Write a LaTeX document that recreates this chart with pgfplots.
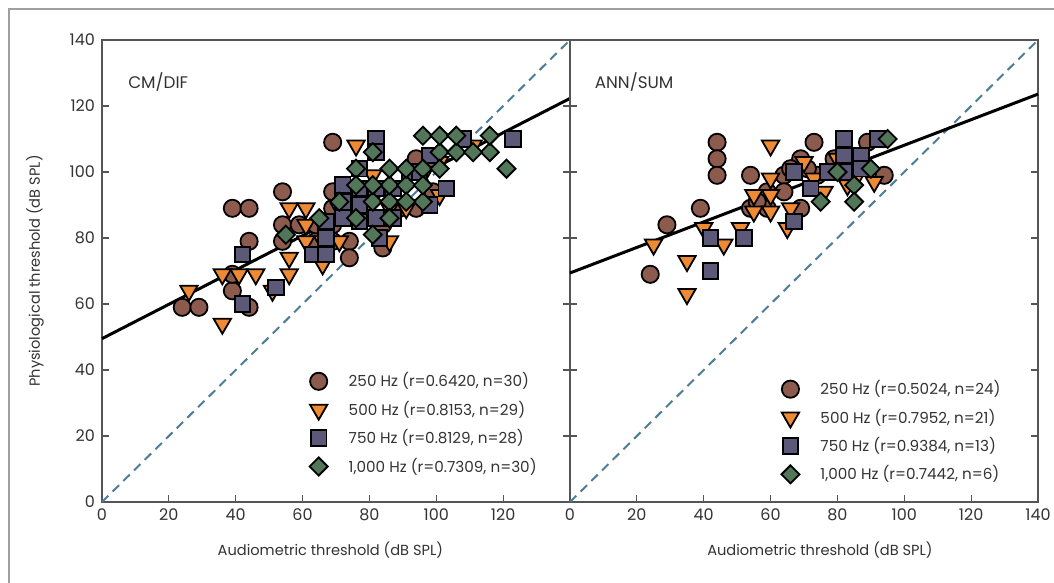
\documentclass[border=0pt]{standalone}
\usepackage{pgfplots}
\pgfplotsset{compat=1.18}
\usepackage{fontspec}
\setmainfont{Poppins}
\definecolor{cbrown}{HTML}{8C5B4E}
\definecolor{corange}{HTML}{EE8A34}
\definecolor{cpurple}{HTML}{5C5878}
\definecolor{cgreen}{HTML}{517658}
\definecolor{cdash}{HTML}{4D7D98}
\definecolor{caxis}{HTML}{555555}
\definecolor{ctext}{HTML}{333333}
\pgfplotsset{
  panel/.style={
    width=234pt, height=231pt, scale only axis,
    xmin=0, xmax=140, ymin=0, ymax=140,
    xtick={0,20,...,140}, ytick={0,20,...,140},
    tick align=inside, xtick pos=lower,
    yticklabel pos=left,
    major tick length=3.5pt,
    axis line style={caxis, line width=0.8pt},
    tick style={caxis, line width=0.6pt},
    tick label style={font=\fontsize{8}{9}\selectfont, text=ctext},
    /pgf/number format/assume math mode=true,
    every axis y label/.style={at={(axis description cs:-0.143,0.5)}, rotate=90, anchor=center, font=\fontsize{7.3}{9}\selectfont, text=ctext},
    legend cell align=left,
    legend style={draw=none, fill=none, font=\fontsize{7.6}{9}\selectfont, text=ctext, row sep=1.6pt, column sep=8.5pt, anchor=north west},
    clip=false,
  },
  s250/.style={only marks, mark=*, mark size=4.3pt, mark options={fill=cbrown, draw=black, line width=0.9pt}},
  s500/.style={only marks, mark=triangle*, mark size=5pt, mark options={rotate=180, fill=corange, draw=black, line width=0.9pt}},
  s750/.style={only marks, mark=square*, mark size=3.9pt, mark options={fill=cpurple, draw=black, line width=0.9pt}},
  s1000/.style={only marks, mark=square*, mark size=3.2pt, mark options={rotate=45, fill=cgreen, draw=black, line width=0.9pt}},
  idline/.style={cdash, line width=1pt, dash pattern=on 4.5pt off 3pt, forget plot},
  regline/.style={black, line width=1.5pt, forget plot},
}
\begin{document}
\begin{tikzpicture}
\useasboundingbox (-51pt,-40.5pt) rectangle (476pt,251pt);
\draw[gray!75, line width=1pt] (-46.5pt,-45pt) -- (-46.5pt,246.5pt) -- (480pt,246.5pt);
\begin{axis}[panel, at={(0pt,0pt)}, anchor=south west,
  xticklabels={0,20,40,60,80,100,120,{}},
  xlabel={Audiometric threshold (dB SPL)},
  every axis x label/.style={at={(axis description cs:0.488,-0.104)}, anchor=center, font=\fontsize{7.3}{9}\selectfont, text=ctext},
  ylabel={Physiological threshold (dB SPL)},
  legend style={at={(0.430,0.298)}}]
\addplot[idline] coordinates {(0,0) (140,140)};
\addplot[regline] coordinates {(0,49.5) (140,122.3)};
\addplot[s250] coordinates {
(24,59) (29,59) (39,89) (44,89) (44,79) (39,64) (39,69) (44,59) (54,94) (54,84)
(54,79) (69,109) (69,94) (69,89) (69,84) (69,79) (74,79) (74,74) (64,79) (59,84)
(79,89) (79,94) (84,84) (84,77) (89,89) (94,104) (94,89) (99,94) (99,104) (64,84)};
\addlegendentry{250 Hz (r=0.6420, n=30)}
\addplot[s500] coordinates {
(26,64) (36,69) (41,69) (46,69) (36,54) (51,64) (56,89) (61,89) (61,84) (61,79)
(56,74) (56,69) (66,72) (76,108) (91,89) (86,79) (111,108) (101,103) (101,93) (66,84)
(71,89) (76,94) (81,99) (86,94) (71,79) (96,99) (81,86) (66,79) (86,89)};
\addlegendentry{500 Hz (r=0.8153, n=29)}
\addplot[s750] coordinates {
(42,75) (42,60) (52,65) (63,75) (67,75) (67,80) (72,96) (72,91) (72,86) (77,95)
(77,101) (82,110) (82,106) (82,95) (82,86) (87,86) (83,80) (108,110) (123,110) (103,95)
(98,90) (98,105) (77,90) (87,95) (92,100) (67,85) (77,85) (95,100)};
\addlegendentry{750 Hz (r=0.8129, n=28)}
\addplot[s1000] coordinates {
(55,81) (65,86) (76,86) (81,81) (81,91) (86,91) (96,91) (86,96) (91,96) (76,101)
(86,101) (91,101) (96,101) (81,106) (101,106) (106,106) (116,106) (96,111) (101,111) (116,111)
(121,101) (81,96) (71,91) (76,96) (91,91) (101,101) (111,106) (86,86) (96,96) (106,111)};
\addlegendentry{1,000 Hz (r=0.7309, n=30)}
\node[anchor=west, font=\fontsize{8.4}{9}\selectfont, text=ctext] at (axis description cs:0.041,0.909) {CM/DIF};
\end{axis}
\begin{axis}[panel, at={(234pt,0pt)}, anchor=south west,
  yticklabels={},
  xlabel={Audiometric threshold (dB SPL)},
  every axis x label/.style={at={(axis description cs:0.534,-0.104)}, anchor=center, font=\fontsize{7.3}{9}\selectfont, text=ctext},
  legend style={at={(0.438,0.281)}}]
\addplot[idline] coordinates {(0,0) (140,140)};
\addplot[regline] coordinates {(0,69.4) (140,123.6)};
\addplot[s250] coordinates {
(24,69) (29,84) (39,89) (44,109) (44,104) (44,99) (54,99) (54,89) (59,89) (64,99)
(69,104) (69,89) (73,109) (89,109) (94,99) (59,94) (64,94) (79,104) (84,99) (66,101)
(74,99) (86,104) (56,91) (71,101)};
\addlegendentry{250 Hz (r=0.5024, n=24)}
\addplot[s500] coordinates {
(25,78) (35,73) (35,63) (40,83) (46,78) (51,83) (60,108) (55,93) (60,93) (60,98)
(55,88) (60,88) (65,83) (70,103) (76,94) (86,99) (91,97) (80,104) (66,89) (83,96)
(73,98)};
\addlegendentry{500 Hz (r=0.7952, n=21)}
\addplot[s750] coordinates {
(42,80) (42,70) (52,80) (67,85) (67,100) (72,95) (82,110) (82,105) (87,105) (77,100)
(82,100) (92,110) (87,101)};
\addlegendentry{750 Hz (r=0.9384, n=13)}
\addplot[s1000] coordinates {
(75,91) (80,100) (85,96) (85,91) (90,101) (95,110)};
\addlegendentry{1,000 Hz (r=0.7442, n=6)}
\node[anchor=west, font=\fontsize{8.4}{9}\selectfont, text=ctext] at (axis description cs:0.038,0.909) {ANN/SUM};
\end{axis}
\end{tikzpicture}
\end{document}
